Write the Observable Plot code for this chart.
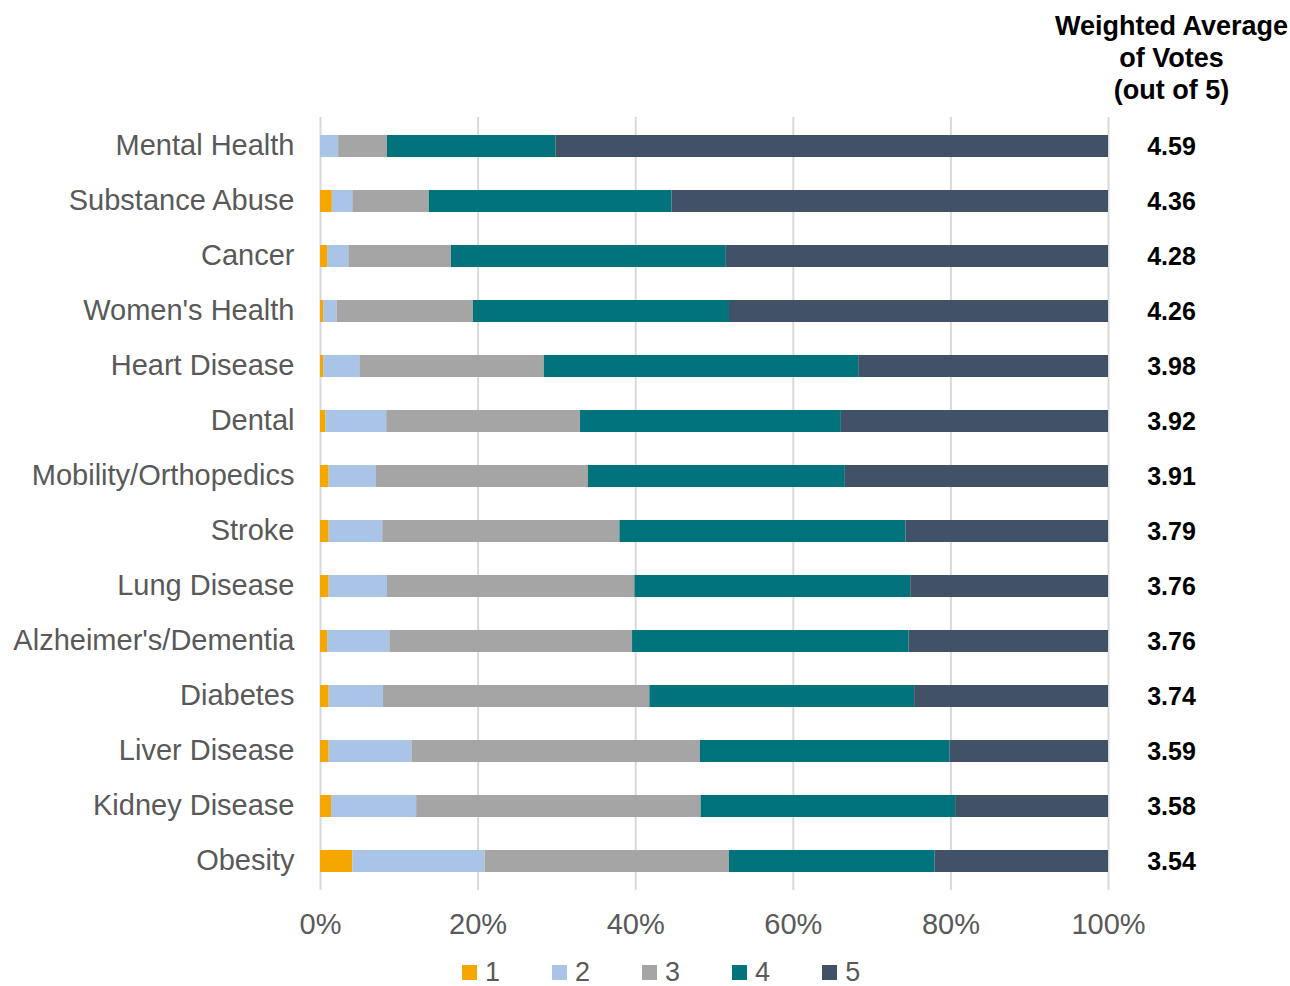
<!DOCTYPE html>
<html>
<head>
<meta charset="utf-8">
<script src="https://cdn.jsdelivr.net/npm/d3@7"></script>
<script src="https://cdn.jsdelivr.net/npm/@observablehq/plot@0.6"></script>
<style>
  html, body { margin: 0; padding: 0; background: #fff; }
  #chart { width: 1290px; }
  .lg-swatches { margin: 0 !important; padding-left: 462px; min-height: 30px !important; }
  .lg-swatch { margin-right: 52px !important; line-height: 1; }
  .lg-swatch > svg { margin-right: 8px !important; }
</style>
</head>
<body>
<div id="chart"></div>
<script>
const categories = ["Mental Health", "Substance Abuse", "Cancer", "Women's Health", "Heart Disease", "Dental", "Mobility/Orthopedics", "Stroke", "Lung Disease", "Alzheimer's/Dementia", "Diabetes", "Liver Disease", "Kidney Disease", "Obesity"];
const levels = ["1", "2", "3", "4", "5"];
const level1 = [0, 1.5, 0.9, 0.4, 0.4, 0.7, 1.1, 1.1, 1.1, 0.9, 1.1, 1.1, 1.4, 4.1];
const level2 = [2.3, 2.6, 2.7, 1.7, 4.6, 7.7, 6.0, 6.8, 7.4, 7.9, 6.9, 10.5, 10.8, 16.8];
const level3 = [6.2, 9.7, 13.0, 17.3, 23.4, 24.6, 26.9, 30.1, 31.4, 30.8, 33.8, 36.6, 36.1, 31.0];
const level4 = [21.4, 30.8, 34.9, 32.5, 39.9, 33.1, 32.6, 36.3, 35.0, 35.1, 33.6, 31.7, 32.3, 26.1];
const level5 = [70.1, 55.4, 48.5, 48.1, 31.7, 33.9, 33.4, 25.7, 25.1, 25.3, 24.6, 20.1, 19.4, 22.0];
const averages = [4.59, 4.36, 4.28, 4.26, 3.98, 3.92, 3.91, 3.79, 3.76, 3.76, 3.74, 3.59, 3.58, 3.54];
const xTicks = [0, 20, 40, 60, 80, 100];
const headerText = "Weighted Average\nof Votes\n(out of 5)";
const colors = ["#F5A700", "#A9C4E7", "#A5A5A5", "#00737D", "#415266"];

const series = [level1, level2, level3, level4, level5];
const long = [];
categories.forEach((c, i) => {
  levels.forEach((l, j) => long.push({category: c, level: l, value: series[j][i]}));
});
const avgRows = categories.map((c, i) => ({category: c, avg: averages[i]}));

const fontFamily = "'Liberation Sans', Arial, Helvetica, sans-serif";

const chart = Plot.plot({
  width: 1290,
  height: 957,
  marginTop: 117,
  marginBottom: 67,
  marginLeft: 320,
  marginRight: 182,
  style: {fontFamily, background: "#fff"},
  x: {domain: [0, 100]},
  y: {domain: categories, paddingInner: 0.6, paddingOuter: 0.3},
  color: {domain: levels, range: colors},
  marks: [
    Plot.gridX(xTicks, {stroke: "#d9d9d9", strokeOpacity: 1, strokeWidth: 2}),
    Plot.barX(long, {x: "value", y: "category", fill: "level", order: levels}),
    Plot.axisX({ticks: xTicks, tickFormat: d => d + "%", tickSize: 0, tickPadding: 23, fontSize: 29, color: "#595959", label: null}),
    Plot.axisY({tickSize: 0, tickPadding: 26, fontSize: 29, color: "#595959", label: null, dy: -1}),
    Plot.text(avgRows, {y: "category", text: d => d.avg.toFixed(2), frameAnchor: "right", dx: 63, dy: 0, textAnchor: "middle", fontSize: 25, fontWeight: "bold", fill: "#000"}),
    Plot.text([headerText], {text: d => d, frameAnchor: "top-right", dx: 63, dy: -19, textAnchor: "middle", lineAnchor: "bottom", lineHeight: 1.17, fontSize: 27, fontWeight: "bold", fill: "#000"})
  ]
});

const legend = Plot.legend({
  color: {domain: levels, range: colors},
  legend: "swatches",
  swatchSize: 15,
  className: "lg",
  style: {fontSize: "27px", fontFamily, color: "#595959"}
});

const host = document.getElementById("chart");
host.appendChild(chart);
host.appendChild(legend);
</script>
</body>
</html>
